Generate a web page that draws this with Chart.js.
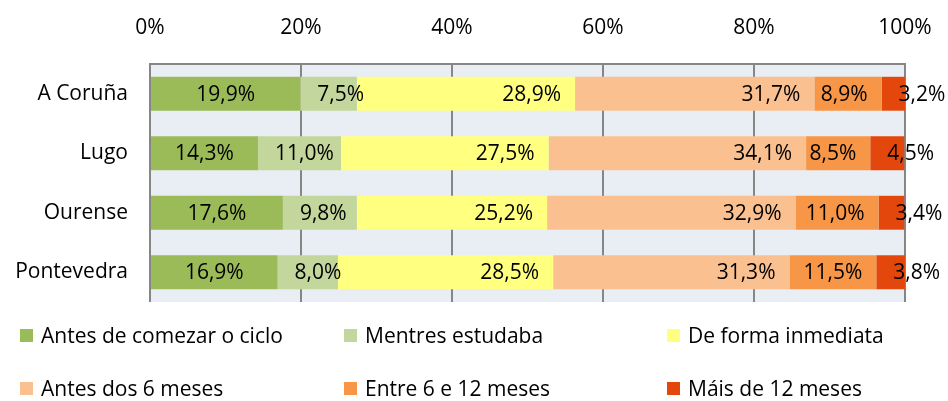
<!DOCTYPE html>
<html>
<head>
<meta charset="utf-8">
<script src="https://cdn.jsdelivr.net/npm/chart.js@4"></script>
<style>
  html, body { margin: 0; padding: 0; background: #fff; }
  #wrap { position: relative; width: 948px; height: 401px; font-family: "Open Sans", sans-serif; }
  #chart { position: absolute; left: 0; top: 0; }
  #legend { position: absolute; left: 20px; top: 323px; width: 928px; display: grid;
            grid-template-columns: 324px 323px 281px; row-gap: 29px; }
  .item { display: flex; align-items: center; font-size: 21px; color: #000; height: 24px; white-space: nowrap; }
  .box { width: 13px; height: 13px; margin-right: 8px; flex: none; }
</style>
</head>
<body>
<div id="wrap">
  <canvas id="chart" width="948" height="401"></canvas>
  <div id="legend"></div>
</div>
<script>
"use strict";

// Provincias
const provincias = ["A Coruña", "Lugo", "Ourense", "Pontevedra"];

// Series (% por provincia)
const series = [
    "Antes de comezar o ciclo",
    "Mentres estudaba",
    "De forma inmediata",
    "Antes dos 6 meses",
    "Entre 6 e 12 meses",
    "Máis de 12 meses"
];
const antesCiclo   = [19.9, 14.3, 17.6, 16.9];
const mentres      = [7.5, 11.0, 9.8, 8.0];
const inmediata    = [28.9, 27.5, 25.2, 28.5];
const antes6       = [31.7, 34.1, 32.9, 31.3];
const entre6e12    = [8.9, 8.5, 11.0, 11.5];
const mais12       = [3.2, 4.5, 3.4, 3.8];

const valores = [antesCiclo, mentres, inmediata, antes6, entre6e12, mais12];
const cores = ["#9BBB59", "#C3D69B", "#FFFF80", "#FAC090", "#F79646", "#E4470B"];
// onde se coloca a etiqueta dentro de cada tramo
const aliñamento = ["center", "start", "end", "end", "end", "start"];

const FONT = '21px "Open Sans", sans-serif';

// Etiquetas de datos (sen plugin externo)
const etiquetas = {
    id: "etiquetas",
    afterDatasetsDraw(chart) {
        const ctx = chart.ctx;
        ctx.save();
        ctx.font = FONT;
        ctx.fillStyle = "#000";
        ctx.textBaseline = "middle";
        chart.data.datasets.forEach((ds, i) => {
            const meta = chart.getDatasetMeta(i);
            meta.data.forEach((bar, j) => {
                const txt = ds.data[j].toFixed(1).replace(".", ",") + "%";
                const ini = bar.base, fin = bar.x;
                if (ds.labelAlign === "center") {
                    ctx.textAlign = "center";
                    ctx.fillText(txt, (ini + fin) / 2, bar.y + 1);
                } else if (ds.labelAlign === "start") {
                    ctx.textAlign = "left";
                    ctx.fillText(txt, ini + 17, bar.y + 1);
                } else {
                    ctx.textAlign = "right";
                    ctx.fillText(txt, fin - 14, bar.y + 1);
                }
            });
        });
        ctx.restore();
    }
};

const ctx = document.getElementById("chart").getContext("2d");
const chart = new Chart(ctx, {
    type: "bar",
    data: {
        labels: provincias,
        datasets: series.map((nome, i) => ({
            label: nome,
            data: valores[i],
            backgroundColor: cores[i],
            borderWidth: 0,
            categoryPercentage: 1,
            barPercentage: 0.57,
            labelAlign: aliñamento[i]
        }))
    },
    options: {
        indexAxis: "y",
        responsive: false,
        animation: false,
        layout: { padding: { left: 0, right: 43, top: 0, bottom: 99 } },
        plugins: {
            legend: { display: false },
            tooltip: { enabled: false }
        },
        scales: {
            x: {
                position: "top",
                stacked: true,
                min: 0,
                max: 100,
                ticks: {
                    stepSize: 20,
                    color: "#000",
                    font: { family: "Open Sans", size: 21 },
                    padding: 23,
                    callback: v => v + "%"
                },
                grid: { color: "#868686", lineWidth: 2, drawTicks: false },
                border: { display: true, color: "#868686", width: 2 },
                afterFit: s => { s.height = 64; s.paddingLeft = 0; s.paddingRight = 0; }
            },
            y: {
                stacked: true,
                ticks: {
                    color: "#000",
                    font: { family: "Open Sans", size: 21 },
                    padding: 22
                },
                grid: { display: false, drawTicks: false },
                border: { display: false },
                afterFit: s => { s.width = 150; }
            }
        }
    },
    plugins: [
        {
            id: "fondo",
            beforeDraw(c) {
                const a = c.chartArea;
                c.ctx.save();
                c.ctx.fillStyle = "#E9EDF4";
                c.ctx.fillRect(a.left, a.top, a.right - a.left, a.bottom - a.top);
                c.ctx.restore();
            }
        },
        etiquetas
    ]
});

// Lenda en tres columnas
const lenda = document.getElementById("legend");
chart.data.datasets.forEach(ds => {
    const el = document.createElement("div");
    el.className = "item";
    el.innerHTML = '<span class="box" style="background:' + ds.backgroundColor + '"></span>' + ds.label;
    lenda.appendChild(el);
});
</script>
</body>
</html>
